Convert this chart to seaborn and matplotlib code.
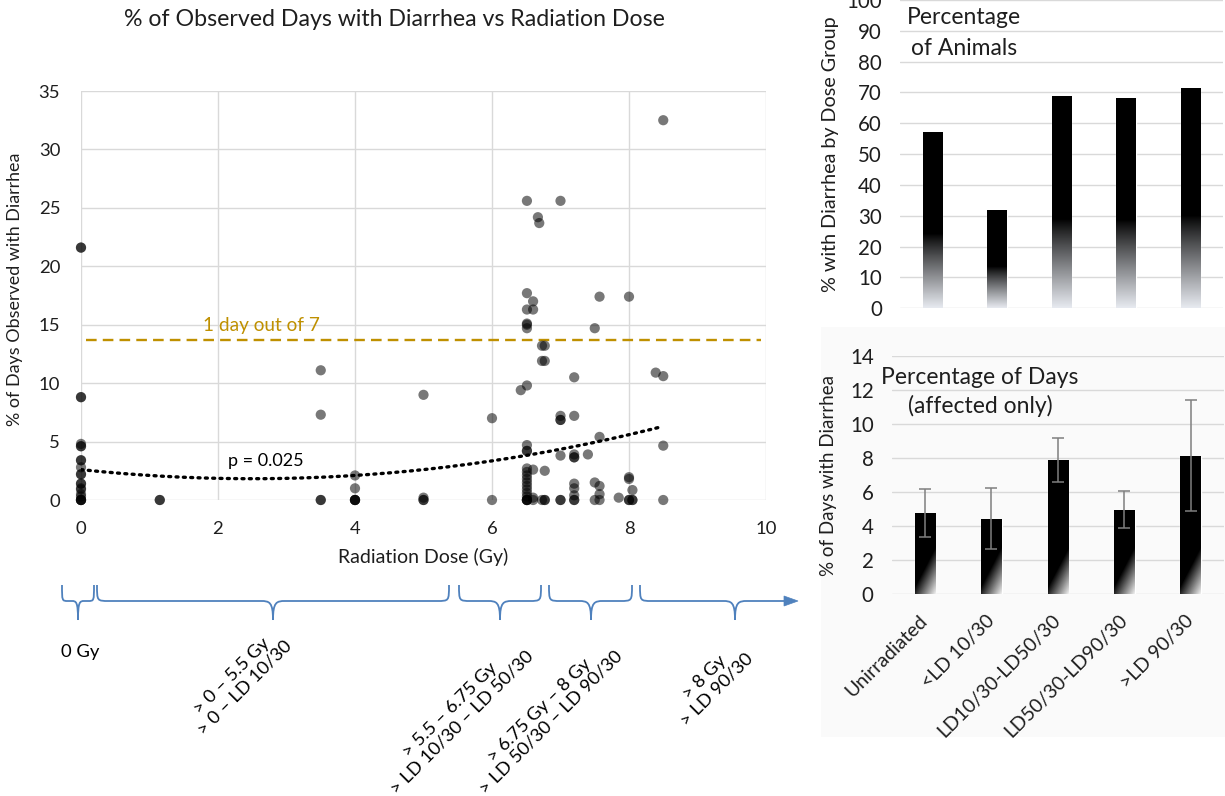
import numpy as np
import pandas as pd
import matplotlib
matplotlib.use("Agg")
import matplotlib.pyplot as plt
import seaborn as sns
from matplotlib.path import Path
from matplotlib.patches import PathPatch, Rectangle, Polygon
from matplotlib.colors import LinearSegmentedColormap

# ---------------------------------------------------------------- data
# per-animal % of observed days with diarrhea, grouped by radiation dose (Gy)
DOSE_LEVELS = [0.0, 1.15, 3.5, 4.0, 5.0, 6.0, 6.42, 6.51, 6.6, 6.67, 6.69,
               6.73, 6.77, 7.0, 7.2, 7.4, 7.5, 7.57, 7.85, 8.0, 8.05, 8.39, 8.5]
PCT_BY_DOSE = [
    [21.6, 21.6, 8.8, 8.8, 4.8, 4.6, 4.6, 3.4, 3.4, 2.8, 2.2, 2.2, 1.4, 1.4,
     1.0, 0.9, 0.5, 0.3, 0, 0, 0, 0],
    [0, 0],
    [11.1, 7.3, 0, 0],
    [2.1, 1.0, 0, 0, 0, 0],
    [9.0, 0.2, 0, 0],
    [7.0, 0],
    [9.4],
    [25.6, 17.7, 16.3, 15.1, 15.0, 14.7, 9.8, 4.7, 4.2, 4.2, 2.7, 2.4, 2.1,
     1.8, 1.5, 1.2, 0.9, 0.6, 0.3, 0, 0, 0, 0],
    [17.0, 16.3, 2.6, 0.2, 0],
    [24.2],
    [23.7],
    [13.2, 11.9, 0],
    [13.2, 11.9, 2.5, 0, 0],
    [25.6, 7.2, 6.85, 6.85, 3.8, 0, 0],
    [10.5, 7.2, 3.9, 3.65, 3.65, 1.4, 1.0, 0.4, 0, 0],
    [3.9],
    [14.7, 1.5, 0],
    [17.4, 5.4, 1.2, 0.5, 0],
    [0.2],
    [17.4, 1.95, 1.8, 0, 0],
    [0.85, 0, 0],
    [10.9],
    [32.5, 10.6, 4.65, 0],
]
# quadratic trend (highest power first) and the range it covers
TREND_COEF = [0.1246, -0.623, 2.6]
TREND_RANGE = [0.0, 8.45]
ONE_DAY_IN_7 = 13.7
P_VALUE_TEXT = "p = 0.025"

GROUPS = ["Unirradiated", "<LD 10/30", "LD10/30-LD50/30", "LD50/30-LD90/30", ">LD 90/30"]
PCT_ANIMALS = [57.2, 31.8, 68.7, 68.1, 71.3]
PCT_DAYS = [4.78, 4.43, 7.88, 4.96, 8.14]
PCT_DAYS_ERR = [1.42, 1.78, 1.31, 1.08, 3.28]

BRACE_LABELS = ["0 Gy",
                "> 0 \u2013 5.5 Gy\n> 0 \u2013 LD 10/30",
                "> 5.5 \u2013 6.75 Gy\n> LD 10/30 \u2013 LD 50/30",
                "> 6.75 Gy \u2013 8 Gy\n> LD 50/30 \u2013 LD 90/30",
                "> 8 Gy\n> LD 90/30"]

# ---------------------------------------------------------------- style
sns.set_theme(style="white")
plt.rcParams["font.family"] = ["Lato", "DejaVu Sans"]
GRID = "#d9d9d9"
GOLD = "#BF9000"
BLUE = "#4F81BD"
INK = "#1e1e1e"

FIG_W, FIG_H = 1225, 796
fig = plt.figure(figsize=(FIG_W / 100, FIG_H / 100), dpi=100)


def px_axes(x0, y0, x1, y1, **kw):
    return fig.add_axes([x0 / FIG_W, 1 - y1 / FIG_H, (x1 - x0) / FIG_W, (y1 - y0) / FIG_H], **kw)


def clean(ax):
    for s in ax.spines.values():
        s.set_visible(False)
    ax.grid(True, axis="y", color=GRID, lw=1.0)
    ax.tick_params(length=0)


# ---------------------------------------------------------------- scatter
scatter_df = pd.DataFrame(
    [(d, v) for d, vals in zip(DOSE_LEVELS, PCT_BY_DOSE) for v in vals],
    columns=["dose", "pct"])

ax = px_axes(81, 91, 766, 500)
clean(ax)
ax.grid(True, axis="x", color=GRID, lw=1.0)
sns.scatterplot(data=scatter_df, x="dose", y="pct", color="black", alpha=0.53,
                s=54, edgecolor="none", ax=ax, clip_on=False, zorder=3)
tx = np.linspace(*TREND_RANGE, 200)
ax.plot(tx, np.polyval(TREND_COEF, tx), color="black", lw=2.4,
        linestyle=(0, (0.6, 1.6)), dash_capstyle="round", zorder=4)
ax.axhline(ONE_DAY_IN_7, xmin=0.008, xmax=0.992, color=GOLD, lw=1.7,
           linestyle=(0, (4.5, 2.6)), zorder=2)
ax.text(2.63, 14.9, "1 day out of 7", color=GOLD, fontsize=13.7, ha="center", va="center")
ax.text(2.7, 3.3, P_VALUE_TEXT, color="black", fontsize=13, ha="center", va="center")
ax.set_xlim(0, 10)
ax.set_ylim(0, 35)
ax.set_xticks(range(0, 11, 2))
ax.set_yticks(range(0, 36, 5))
ax.tick_params(labelsize=13.3, colors=INK, pad=15)
ax.set_xlabel("Radiation Dose (Gy)", fontsize=14, labelpad=8, color=INK)
ax.set_ylabel("% of Days Observed with Diarrhea", fontsize=12.9, color=INK)
ax.yaxis.set_label_coords(-0.085, 0.515)
fig.text(394 / FIG_W, 1 - 20 / FIG_H, "% of Observed Days with Diarrhea vs Radiation Dose",
         ha="center", va="center", fontsize=16.7, color=INK)

# ---------------------------------------------------------------- dose-group braces
deco = fig.add_axes([0, 0, 1, 1], zorder=-5)
deco.set_xlim(0, FIG_W)
deco.set_ylim(FIG_H, 0)
deco.axis("off")

Y_TOP, Y_MID, Y_TIP = 585, 601, 620


def brace(x0, x1, xt, r, open_right=False):
    verts = [(x0, Y_TOP), (x0, Y_MID), (x0, Y_MID), (x0 + r, Y_MID),
             (xt - r, Y_MID), (xt - 0.3 * r, Y_MID), (xt, Y_MID + 1), (xt, Y_TIP),
             (xt, Y_MID + 1), (xt + 0.3 * r, Y_MID), (xt + r, Y_MID)]
    codes = [Path.MOVETO, Path.CURVE4, Path.CURVE4, Path.CURVE4,
             Path.LINETO, Path.CURVE4, Path.CURVE4, Path.CURVE4,
             Path.CURVE4, Path.CURVE4, Path.CURVE4]
    if open_right:
        verts += [(x1, Y_MID)]
        codes += [Path.LINETO]
    else:
        verts += [(x1 - r, Y_MID), (x1, Y_MID), (x1, Y_MID), (x1, Y_TOP)]
        codes += [Path.LINETO, Path.CURVE4, Path.CURVE4, Path.CURVE4]
    deco.add_patch(PathPatch(Path(verts, codes), fill=False, ec=BLUE, lw=1.3))


brace(62, 94, 78, 6)
brace(97, 449, 273, 12)
brace(459, 541, 500, 12)
brace(549, 632, 591, 12)
brace(640, 786, 735, 12, open_right=True)
deco.add_patch(Polygon([(784, 596), (798, 601), (784, 606)], closed=True, fc=BLUE, ec=BLUE, lw=0.5))

deco.text(80, 652, BRACE_LABELS[0], fontsize=13.3, ha="center", va="center", color="black")
for (cx, cy), lab in zip([(238, 682), (456, 716), (545, 716), (711, 683)], BRACE_LABELS[1:]):
    deco.text(cx, cy, lab, fontsize=13.3, rotation=45, rotation_mode="anchor",
              ha="center", va="center", multialignment="center", color="black",
              linespacing=1.1)

# faint panel behind the lower bar chart
fig.patches.append(Rectangle((821 / FIG_W, 1 - 737 / FIG_H), (FIG_W - 821) / FIG_W, (737 - 327) / FIG_H,
                             transform=fig.transFigure, fc="#fafafa", ec="none", zorder=-10))


def gradient_fill(ax, patch, arr, cmap):
    x0, y0 = patch.get_x(), patch.get_y()
    w, h = patch.get_width(), patch.get_height()
    im = ax.imshow(arr, extent=[x0, x0 + w, y0, y0 + h], origin="lower", cmap=cmap,
                   vmin=0, vmax=1, aspect="auto", interpolation="bilinear",
                   zorder=patch.get_zorder() + 0.1)
    im.set_clip_path(patch)


# ---------------------------------------------------------------- % of animals
bar_df = pd.DataFrame({"group": GROUPS, "animals": PCT_ANIMALS,
                       "days": PCT_DAYS, "err": PCT_DAYS_ERR})

ax1 = px_axes(900, 0, 1223, 308.3)
clean(ax1)
sns.barplot(data=bar_df, x="group", y="animals", color="black", saturation=1,
            width=0.3, errorbar=None, ax=ax1, zorder=2)
ax1.set_ylim(0, 100)
ax1.set_xlim(-0.5, 4.5)
cmap_v = LinearSegmentedColormap.from_list("v", ["#000000", "#e6e9ef"])
for p in ax1.patches:
    yn = np.linspace(0, 1, 200)[:, None]
    arr = np.clip((0.42 - yn) / 0.42, 0, 1) ** 0.9 * np.ones((1, 4))
    gradient_fill(ax1, p, arr, cmap_v)
ax1.set_yticks(range(0, 101, 10))
ax1.set_xticks([])
ax1.set_xlabel("")
ax1.tick_params(labelsize=14.8, colors=INK, pad=13)
ax1.set_ylabel("% with Diarrhea by Dose Group", fontsize=14.2, labelpad=5, color=INK)
fig.text(964 / FIG_W, 1 - 33 / FIG_H, "Percentage\nof Animals", ha="center", va="center",
         fontsize=16.5, linespacing=1.6, color=INK)

# ---------------------------------------------------------------- % of days (affected)
ax2 = px_axes(891.75, 356, 1224, 594)
ax2.set_facecolor("none")
clean(ax2)
sns.barplot(data=bar_df, x="group", y="days", color="black", saturation=1,
            width=0.31, errorbar=None, ax=ax2, zorder=2)
ax2.errorbar(np.arange(len(GROUPS)), bar_df["days"], yerr=bar_df["err"], fmt="none",
             ecolor="#7f7f7f", elinewidth=1.1, capsize=4, capthick=1.1, zorder=5)
ax2.set_ylim(0, 14)
ax2.set_xlim(-0.5, 4.5)
cmap_d = LinearSegmentedColormap.from_list("d", ["#000000", "#f4f4f4"])
px_per_unit = (594 - 356) / 14
bar_w_px = 0.31 * (1224 - 891.75) / 5
for p in ax2.patches:
    H = max(int(round(p.get_height() * px_per_unit)), 2)
    W = max(int(round(bar_w_px)), 2)
    xx = np.arange(W)[None, :] + 0.5
    yy = np.arange(H)[:, None] + 0.5
    arr = np.clip((1.9 * xx - yy + 7) / 47, 0, 1)
    gradient_fill(ax2, p, arr, cmap_d)
ax2.set_yticks(range(0, 15, 2))
ax2.set_xticks(range(len(GROUPS)))
ax2.set_xticklabels(GROUPS, rotation=45, ha="right", va="center", rotation_mode="anchor")
ax2.set_xlabel("")
ax2.tick_params(axis="y", labelsize=14.8, colors=INK, pad=13)
ax2.tick_params(axis="x", labelsize=14, colors=INK, pad=17)
ax2.set_ylabel("% of Days with Diarrhea", fontsize=13.5, labelpad=9, color=INK)
fig.text(980 / FIG_W, 1 - 392 / FIG_H, "Percentage of Days\n(affected only)", ha="center",
         va="center", fontsize=16.5, linespacing=1.4, color=INK)

fig.savefig("out.png", dpi=100, facecolor="white")
